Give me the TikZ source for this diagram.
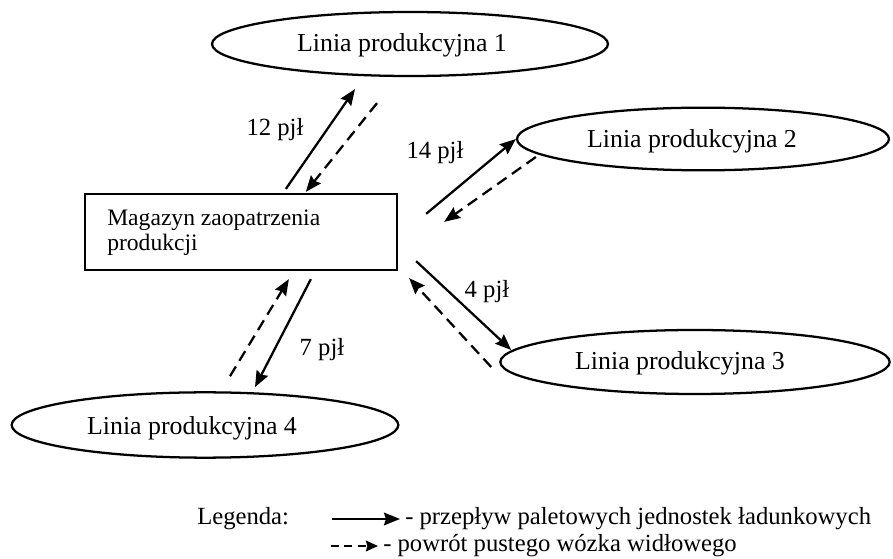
\documentclass[tikz,border=0pt]{standalone}
\usepackage{fontspec}
\setmainfont{Liberation Serif}
\usetikzlibrary{arrows.meta,calc,shapes.geometric}
\begin{document}
\begin{tikzpicture}[x=0.75pt,y=-0.75pt,
  lin/.style={draw,ellipse,line width=1.7pt,inner sep=0pt},
  ltext/.style={font=\fontsize{19.4pt}{22pt}\selectfont,inner sep=0pt},
  lab/.style={font=\fontsize{18.5pt}{22pt}\selectfont,inner sep=0pt},
  flow/.style={line width=1.7pt,-{Stealth[length=12pt,width=9.5pt,inset=1.5pt]}},
  back/.style={flow,dash pattern=on 8.5pt off 5pt}]
\useasboundingbox (0,0) rectangle (893,559);
\fill[white] (0,0) rectangle (893,559);
% production lines
\node[lin,minimum width=297pt,minimum height=48pt] (l1) at (410,44) {};
\node[ltext] (t1) at (402,45) {Linia produkcyjna 1};
\node[lin,minimum width=279pt,minimum height=47pt] (l2) at (703,139) {};
\node[ltext] (t2) at (692,141) {Linia produkcyjna 2};
\node[lin,minimum width=292pt,minimum height=48pt] (l3) at (695,362) {};
\node[ltext] (t3) at (680,363) {Linia produkcyjna 3};
\node[lin,minimum width=290pt,minimum height=49pt] (l4) at (205,425) {};
\node[ltext] (t4) at (192,428) {Linia produkcyjna 4};
% warehouse
\node[draw,line width=1.7pt,minimum width=234pt,minimum height=57pt,inner sep=0pt] (m) at (241,232) {};
\node[font=\fontsize{17.7pt}{18.75pt}\selectfont,anchor=north west,align=left,inner sep=0pt] (mt) at (107,210) {Magazyn zaopatrzenia\\produkcji};
% line 1
\draw[flow] ($(m.north west)+(202,-4)$) -- ($(l1.south)+(-55,12)$);
\draw[back] ($(l1.south)+(-33,26)$) -- ($(m.north west)+(222,-1)$);
\node[lab] (p1) at (275,130) {12 pjł};
% line 2
\draw[flow] ($(m.north east)+(28,21)$) -- (l2.west);
\draw[back] ($(l2.west)+(20,18)$) -- ($(m.north east)+(46,29)$);
\node[lab] (p2) at (435,153) {14 pjł};
% line 3
\draw[flow] ($(m.south east)+(18,-10)$) -- ($(l3.west)+(12,-12)$);
\draw[back] ($(l3.west)+(-8,5)$) -- ($(m.south east)+(11,7)$);
\node[lab] (p3) at (487,292) {4 pjł};
% line 4
\draw[flow] ($(m.south west)+(227,8)$) -- ($(l4.north)+(50,-4)$);
\draw[back] ($(l4.north)+(25,-15)$) -- ($(m.south west)+(205,8)$);
\node[lab] (p4) at (322,350) {7 pjł};
% legend
\node[lab,anchor=west] (lg) at (197,519) {Legenda:};
\coordinate (a1) at (332,519);
\coordinate (a2) at (400,519);
\coordinate (b1) at (331,546);
\coordinate (b2) at (378,546);
\draw[flow] (a1) -- (a2);
\draw[line width=1.7pt,dash pattern=on 6pt off 4pt,-{Stealth[length=9pt,width=8pt,inset=1pt]}] (b1) -- (b2);
\node[lab,anchor=west] (lt1) at (405,519) {- przepływ paletowych jednostek ładunkowych};
\node[lab,anchor=west] (lt2) at (383,546) {- powrót pustego wózka widłowego};
\end{tikzpicture}
\end{document}
